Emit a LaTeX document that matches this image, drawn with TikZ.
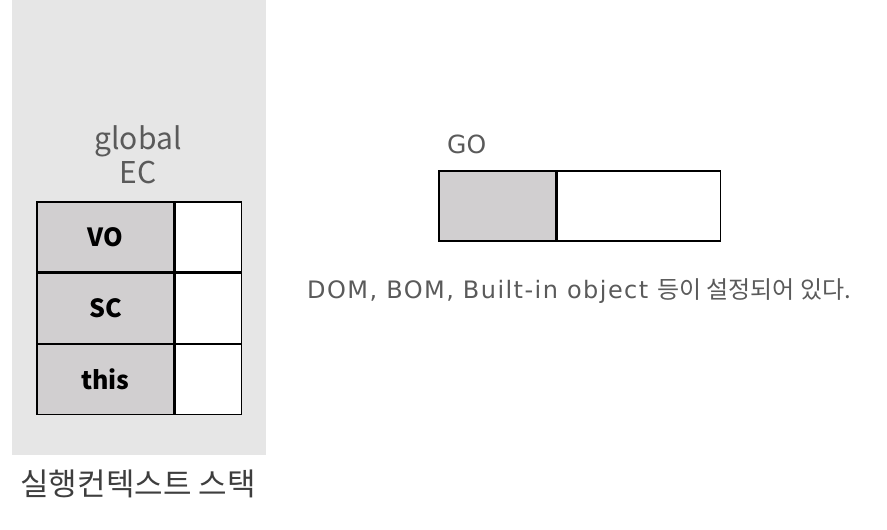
\documentclass[tikz,border=0pt]{standalone}
\usepackage{fontspec}
\setmainfont{Noto Sans CJK KR}
\newfontfamily\latfont{DejaVu Sans}
\newfontfamily\widefont[LetterSpace=6]{DejaVu Sans}
\usetikzlibrary{positioning}
\definecolor{panelbg}{HTML}{E6E6E6}
\definecolor{cellbg}{HTML}{D1CFD0}
\definecolor{ink}{HTML}{000000}
\definecolor{muted}{HTML}{5A5A5A}
\definecolor{dark}{HTML}{3E3E3E}
\tikzset{
  keycell/.style={draw=ink, fill=cellbg, line width=1.2pt, inner sep=0pt,
    minimum width=137pt, minimum height=70pt, font=\fontsize{25}{28}\selectfont\bfseries},
  valcell/.style={draw=ink, fill=white, line width=1.2pt, inner sep=0pt,
    minimum width=66pt, minimum height=70pt},
  lab/.style={text=muted, inner sep=0pt, font=\fontsize{24}{28}\selectfont},
}
\begin{document}
\begin{tikzpicture}[x=1pt, y=-1pt]
  \useasboundingbox (0,0) rectangle (887,530);

  % execution context stack
  \fill[panelbg] (12,0) rectangle (266,455);
  \node[lab, align=center, font=\fontsize{30}{34}\selectfont] (ec) at (138,155) {global\\EC};

  \node[keycell] (vo) at (105.5,237) {VO};
  \node[keycell, below=0pt of vo] (sc) {SC};
  \node[keycell, below=0pt of sc] (this) {this};
  \node[valcell, right=0pt of vo] (vov) {};
  \node[valcell, right=0pt of sc] (scv) {};
  \node[valcell, right=0pt of this] (thisv) {};

  \node[text=dark, inner sep=0pt, font=\fontsize{31}{34}\selectfont] (stack) at (138,484) {실행컨텍스트 스택};

  % global object
  \node[keycell, minimum width=117pt] (go) at (497.5,206) {};
  \node[valcell, minimum width=163pt, right=0pt of go] (gov) {};
  \node[lab, anchor=base west, font=\fontsize{25}{28}\latfont] (golab) at (447,153) {GO};

  \node[lab, anchor=base west] (desc) at (307,298) {{\widefont DOM, BOM, Built-in object}\hspace{9pt}등이 설정되어 있다.};
\end{tikzpicture}
\end{document}
